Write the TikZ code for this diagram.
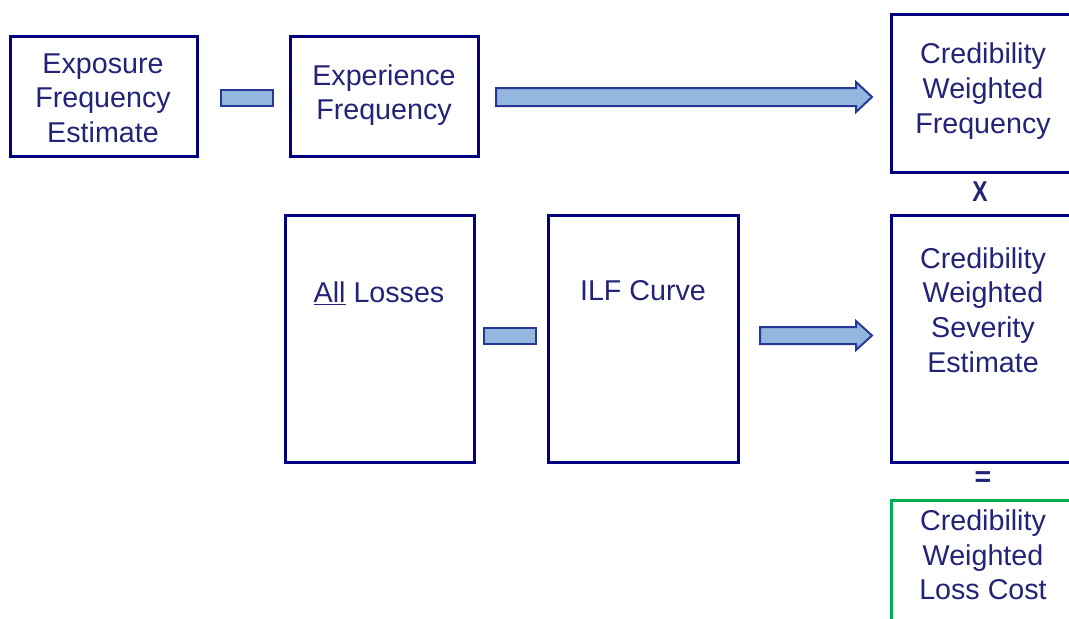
\documentclass[tikz,border=0pt]{standalone}
\usepackage{fontspec}
\setmainfont{Liberation Sans}
\definecolor{navy}{RGB}{0,0,128}
\definecolor{ink}{RGB}{35,35,120}
\definecolor{pale}{RGB}{148,183,224}
\definecolor{rim}{RGB}{40,55,150}
\definecolor{lossgreen}{RGB}{0,176,80}

\begin{document}
\begin{tikzpicture}[x=0.75pt,y=-0.75pt,
  box/.style={draw=navy,line width=2.25pt,inner sep=0pt},
  txt/.style={text=ink,align=center,font=\fontsize{21.5}{26}\selectfont},
  bar/.style={draw=rim,fill=pale,line width=1.5pt,inner sep=0pt,minimum width=39pt,minimum height=12pt},
  fatarrow/.style={draw=rim,fill=pale,line width=1.5pt,line join=miter}]
\clip (0,0) rectangle (1069,618);
\useasboundingbox (0,0) rectangle (1069,618);

% top row
\node[box,minimum width=140.25pt,minimum height=90pt] (expo) at (103.5,96) {};
\node[txt] (expoT) at (103,98) {Exposure\\Frequency\\Estimate};
\node[bar] (minusA) at (247,98) {};
\node[box,minimum width=141pt,minimum height=90pt] (expe) at (384,96) {};
\node[txt] (expeT) at (384,95) {Experience\\Frequency};
\draw[fatarrow] (496,88) -- (856,88) -- (856,82) -- (872,97) -- (856,112) -- (856,106) -- (496,106) -- cycle;
\node[box,minimum width=139.5pt,minimum height=118.5pt] (cwf) at (984,93) {};
\node[txt] (cwfT) at (983,91) {Credibility\\Weighted\\Frequency};

\node[txt,font=\fontsize{21.5}{26}\selectfont\bfseries] (times) at (980,192) {\scalebox{0.8}[1]{X}};

% bottom row
\node[box,minimum width=141.75pt,minimum height=185.25pt] (loss) at (379.5,338.5) {};
\node[txt] (lossT) at (379,293) {\underline{All} Losses};
\node[bar] (minusB) at (509.5,336) {};
\node[box,minimum width=142.5pt,minimum height=185.25pt] (ilf) at (643,338.5) {};
\node[txt] (ilfT) at (643,291) {ILF Curve};
\draw[fatarrow] (760,327) -- (856,327) -- (856,321) -- (872,335.5) -- (856,350) -- (856,344) -- (760,344) -- cycle;
\node[box,minimum width=139.5pt,minimum height=185.25pt] (cws) at (984,338.5) {};
\node[txt] (cwsT) at (983,310) {Credibility\\Weighted\\Severity\\Estimate};

\node[txt,font=\fontsize{21.5}{26}\selectfont\bfseries] (equals) at (983,479) {=};

\node[box,draw=lossgreen,minimum width=139.5pt,minimum height=105pt] (cost) at (984,570) {};
\node[txt] (costT) at (983,555) {Credibility\\Weighted\\Loss Cost};
\end{tikzpicture}
\end{document}
